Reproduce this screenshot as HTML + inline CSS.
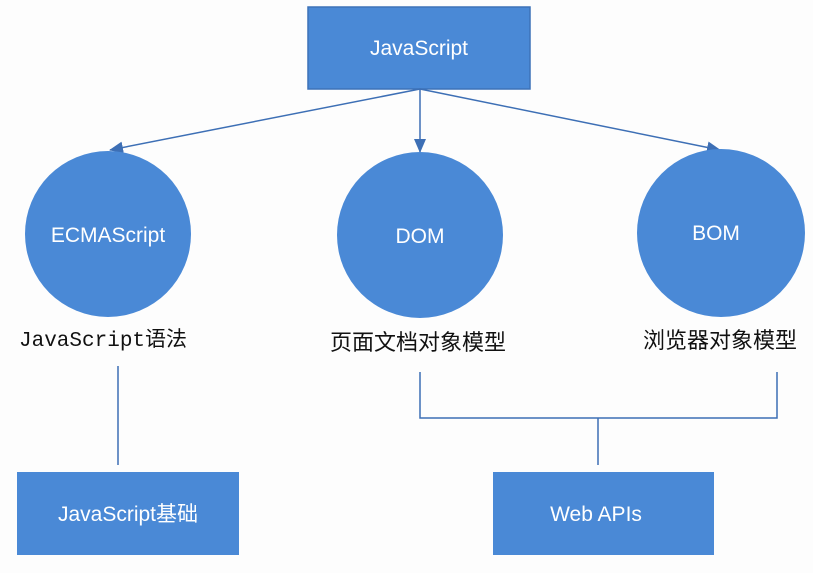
<!DOCTYPE html>
<html><head><meta charset="utf-8"><style>
html,body{margin:0;padding:0;background:#fdfdfd;}
svg{display:block}
.w{font-family:"Liberation Sans","Noto Sans CJK SC",sans-serif;fill:#fff;font-size:21px}
.k{font-family:"Liberation Sans","Noto Sans CJK SC",sans-serif;fill:#111;font-size:22px}
.m{font-family:"Liberation Mono","Noto Sans CJK SC",monospace;fill:#111;font-size:21px}
</style></head><body>
<svg width="813" height="573" viewBox="0 0 813 573">
<defs><marker id="a" markerWidth="14" markerHeight="14" refX="13" refY="7" orient="auto" markerUnits="userSpaceOnUse"><path d="M0,1 L14,7 L0,13 z" fill="#3d6fb5"/></marker></defs>
<rect x="308" y="7" width="222" height="82" fill="#4a89d6" stroke="#3d72b8" stroke-width="1.5"/>
<text x="419" y="55" class="w" text-anchor="middle">JavaScript</text>
<g stroke="#3d6fb5" stroke-width="1.5" fill="none">
<line x1="420" y1="89" x2="110" y2="150" marker-end="url(#a)"/>
<line x1="420" y1="89" x2="420" y2="152" marker-end="url(#a)"/>
<line x1="420" y1="89" x2="720" y2="150" marker-end="url(#a)"/>
<line x1="118" y1="366" x2="118" y2="465"/>
<polyline points="420,372 420,418 777,418 777,372"/>
<line x1="598" y1="418" x2="598" y2="465"/>
</g>
<circle cx="108" cy="234" r="83" fill="#4a89d6"/>
<circle cx="420" cy="235" r="83" fill="#4a89d6"/>
<circle cx="721" cy="233" r="84" fill="#4a89d6"/>
<text x="108" y="242" class="w" text-anchor="middle">ECMAScript</text>
<text x="420" y="243" class="w" text-anchor="middle">DOM</text>
<text x="716" y="240" class="w" text-anchor="middle">BOM</text>
<text x="19" y="346" class="m">JavaScript<tspan style="font-family:'Noto Sans CJK SC',sans-serif">语法</tspan></text>
<text x="330" y="350" class="k">页面文档对象模型</text>
<text x="643" y="348" class="k">浏览器对象模型</text>
<rect x="17" y="472" width="222" height="83" fill="#4a89d6"/>
<text x="128" y="521" class="w" text-anchor="middle">JavaScript基础</text>
<rect x="493" y="472" width="221" height="83" fill="#4a89d6"/>
<text x="596" y="521" class="w" text-anchor="middle">Web APIs</text>
</svg>
</body></html>
